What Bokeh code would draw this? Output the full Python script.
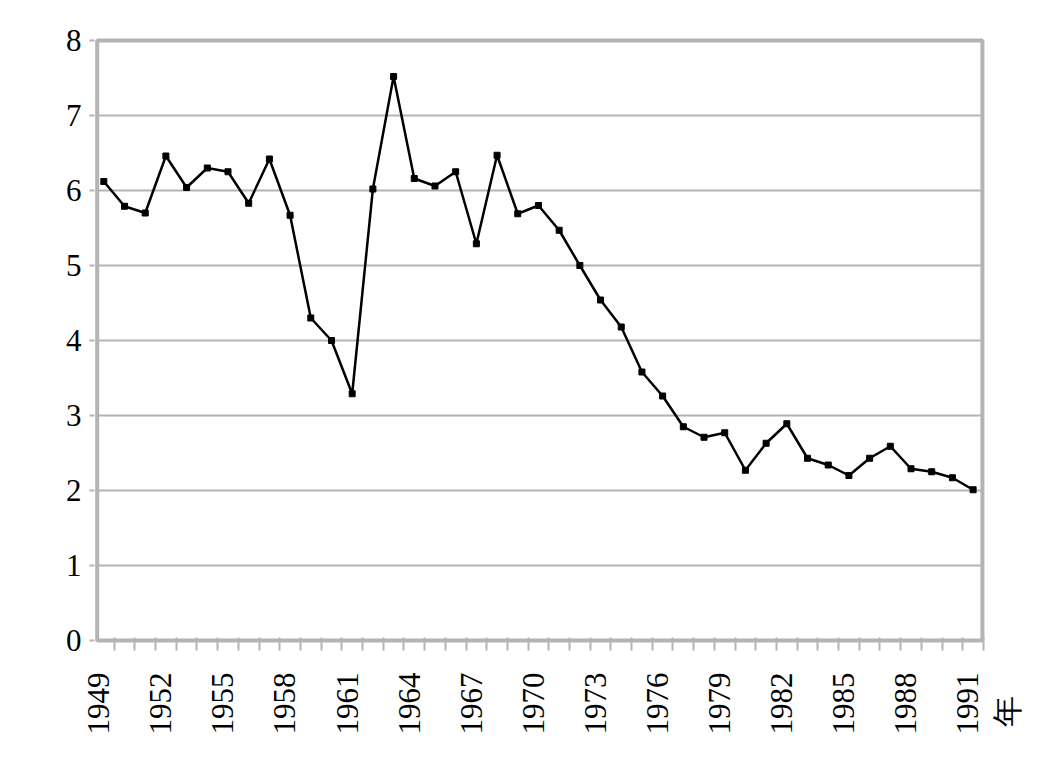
import math
from bokeh.plotting import figure
from bokeh.models import Range1d, FixedTicker
from bokeh.embed import file_html
from bokeh.resources import INLINE

years = list(range(1949, 1992))
values = [6.12, 5.79, 5.70, 6.46, 6.04, 6.30, 6.25, 5.83, 6.42, 5.67,
          4.30, 4.00, 3.29, 6.02, 7.52, 6.16, 6.06, 6.25, 5.29, 6.47,
          5.69, 5.80, 5.47, 5.00, 4.54, 4.18, 3.58, 3.26, 2.85, 2.71,
          2.77, 2.27, 2.63, 2.89, 2.43, 2.34, 2.20, 2.43, 2.59, 2.29,
          2.25, 2.17, 2.01]
x_tick_labels = list(range(1949, 1992, 3))
y_ticks = [0, 1, 2, 3, 4, 5, 6, 7, 8]
unit_label = "年"

FONT = "Liberation Serif"
GREY = "#b4b4b4"

# plot box (in data units) and a spot for the unit label to the right of it
box_left, box_right = 1948.68, 1991.45
unit_pos = 1992.64
label_shift = -0.25  # tick labels sit slightly left of their data points

label_pos = [y + label_shift for y in x_tick_labels]
overrides = {pos: str(y) for pos, y in zip(label_pos, x_tick_labels)}
overrides[unit_pos] = unit_label + "\u00a0\u00a0\u00a0"

p = figure(width=1040, height=774, output_backend="svg", toolbar_location=None,
           x_range=Range1d(1948.55, 1993.0), y_range=Range1d(-0.04, 8.04),
           min_border_left=94, min_border_top=37, min_border_right=26,
           min_border_bottom=131)
p.background_fill_color = "white"
p.border_fill_color = "white"
p.outline_line_color = None
p.grid.grid_line_color = None

# horizontal gridlines limited to the plot box
p.segment(x0=[box_left] * (len(y_ticks) - 2), x1=[box_right] * (len(y_ticks) - 2),
          y0=y_ticks[1:-1], y1=y_ticks[1:-1], line_color=GREY, line_width=2)
# plot box border
p.quad(left=[box_left], right=[box_right], bottom=[y_ticks[0]], top=[y_ticks[-1]],
       fill_color=None, line_color=GREY, line_width=4)

p.xaxis.ticker = FixedTicker(ticks=label_pos + [unit_pos],
                             minor_ticks=[y + 0.5 for y in range(1949, 1992)])
p.xaxis.major_label_overrides = overrides
p.xaxis.axis_line_color = None
p.xaxis.major_tick_line_color = None
p.xaxis.major_tick_out = 0
p.xaxis.major_tick_in = 0
p.xaxis.minor_tick_line_color = GREY
p.xaxis.minor_tick_line_width = 2
p.xaxis.minor_tick_out = 7
p.xaxis.minor_tick_in = 6
p.xaxis.major_label_orientation = math.pi / 2
p.xaxis.major_label_standoff = 22
p.xaxis.major_label_text_font = FONT
p.xaxis.major_label_text_font_size = "31px"
p.xaxis.major_label_text_color = "black"

p.yaxis.ticker = FixedTicker(ticks=y_ticks, minor_ticks=[])
p.yaxis.axis_line_color = None
p.yaxis.major_tick_line_color = GREY
p.yaxis.major_tick_line_width = 2
p.yaxis.major_tick_out = 5
p.yaxis.major_tick_in = 0
p.yaxis.minor_tick_line_color = None
p.yaxis.major_label_standoff = 8
p.yaxis.major_label_text_font = FONT
p.yaxis.major_label_text_font_size = "31px"
p.yaxis.major_label_text_color = "black"

p.line(years, values, line_color="black", line_width=2.5)
p.scatter(years, values, marker="square", size=6, fill_color="black",
          line_color="black")

open("out.html", "w").write(file_html(p, INLINE))
